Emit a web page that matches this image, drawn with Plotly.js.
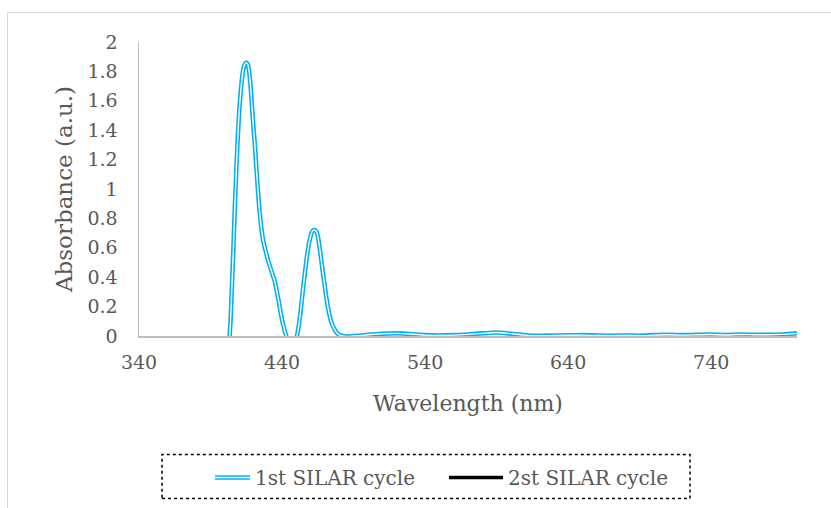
<!DOCTYPE html>
<html>
<head>
<meta charset="utf-8">
<script src="https://cdn.plot.ly/plotly-3.0.1.min.js"></script>
<style>
html,body{margin:0;padding:0;background:#fff;}
#wrap{position:relative;width:831px;height:508px;overflow:hidden;}
#chart{position:absolute;left:0;top:0;width:831px;height:508px;}
#frame{position:absolute;left:7px;top:12px;width:900px;height:600px;border:1px solid #d9d9d9;pointer-events:none;}
</style>
</head>
<body>
<div id="wrap"><div id="chart"></div><div id="frame"></div></div>
<script>
// Wavelength (nm) and absorbance (a.u.)
const wavelength1 = [396,400,403,404,405,406,407,408,409,410,411,412,413,414,415,416,417,418,419,420,
  421,422,423,424,425,426,427,428,429,430,431,432,433,434,435,436,437,438,439,440,441,442,443,444,446,448,450,
  451,452,453,454,455,456,457,458,459,460,461,462,463,464,465,466,467,468,469,470,471,472,473,474,475,476,477,478,479,480,
  482,485,490,495,500,510,520,530,540,550,560,570,580,590,600,610,620,630,640,650,660,670,680,690,700,710,720,730,740,750,760,770,780,790,800];
const absorbance1 = [-1.2,-0.6,-0.05,0.1,0.35,0.6,0.88,1.12,1.34,1.52,1.65,1.75,1.82,1.85,1.86,1.85,1.80,1.70,1.56,1.42,
  1.30,1.15,1.01,0.88,0.78,0.70,0.64,0.60,0.56,0.52,0.49,0.46,0.43,0.40,0.37,0.32,0.27,0.22,0.16,0.11,0.07,0.03,0.0,-0.05,-0.12,-0.10,-0.02,
  0.03,0.09,0.17,0.26,0.35,0.43,0.51,0.58,0.64,0.68,0.71,0.72,0.72,0.71,0.68,0.62,0.55,0.47,0.40,0.33,0.26,0.20,0.15,0.11,0.08,0.06,0.04,0.025,0.015,0.008,
  0.0,-0.003,0.0,0.003,0.008,0.015,0.018,0.014,0.006,0.004,0.006,0.011,0.018,0.024,0.016,0.006,0.002,0.003,0.005,0.006,0.004,0.002,0.004,0.002,0.006,0.008,0.006,0.008,0.01,0.007,0.01,0.009,0.008,0.011,0.018];
// Second series is not visible in the reference plot area
const wavelength2 = [340, 800];
const absorbance2 = [null, null];
const seriesNames = ['1st SILAR cycle', '2st SILAR cycle'];
const xTicks = [340, 440, 540, 640, 740];
const yTicks = [0, 0.2, 0.4, 0.6, 0.8, 1, 1.2, 1.4, 1.6, 1.8, 2];
const yTickText = ['0', '0.2', '0.4', '0.6', '0.8', '1', '1.2', '1.4', '1.6', '1.8', '2'];

const FONT = 'DejaVu Serif, Liberation Serif, serif';
const BLUE = '#00B0F0';

const traces = [
  {x: wavelength1, y: absorbance1, name: seriesNames[0], type: 'scatter', mode: 'lines',
   line: {color: BLUE, width: 4.5, shape: 'spline', smoothing: 0.6}},
  {x: wavelength1, y: absorbance1, name: seriesNames[0] + ' inner', type: 'scatter', mode: 'lines',
   line: {color: '#ffffff', width: 1.4, shape: 'spline', smoothing: 0.6}, showlegend: false, hoverinfo: 'skip'},
  {x: wavelength2, y: absorbance2, name: seriesNames[1], type: 'scatter', mode: 'lines',
   line: {color: '#000000', width: 3.5}}
];

const layout = {
  width: 831, height: 508,
  margin: {l: 139, r: 34, t: 42, b: 171},
  paper_bgcolor: '#ffffff', plot_bgcolor: '#ffffff',
  font: {family: FONT, color: '#595959'},
  showlegend: true,
  xaxis: {
    range: [340, 800], tickvals: xTicks, ticktext: xTicks.map(String),
    showgrid: false, zeroline: false, showline: true, linecolor: '#bfbfbf', linewidth: 1.5,
    ticks: '', ticklabelstandoff: 9, tickfont: {size: 19, family: FONT, color: '#595959'},
    title: {text: 'Wavelength (nm)', font: {size: 22, family: FONT, color: '#595959'}, standoff: 23}
  },
  yaxis: {
    range: [0, 2], tickvals: yTicks, ticktext: yTickText,
    showgrid: false, zeroline: false, showline: true, linecolor: '#bfbfbf', linewidth: 1.5,
    ticks: '', ticklabelstandoff: 16, tickfont: {size: 19, family: FONT, color: '#595959'},
    title: {text: 'Absorbance (a.u.)', font: {size: 23, family: FONT, color: '#595959'}, standoff: 8}
  },
  legend: {
    orientation: 'h', x: 0.1155, y: -0.41, xanchor: 'left', yanchor: 'top',
    bgcolor: 'rgba(0,0,0,0)', borderwidth: 0,
    font: {size: 20, family: FONT, color: '#595959'},
    entrywidth: 208, entrywidthmode: 'pixels'
  },
  shapes: [{
    type: 'rect', xref: 'paper', yref: 'paper',
    x0: 0.035, x1: 0.8374, y0: -0.5525, y1: -0.4034,
    line: {color: '#000000', width: 1.5, dash: 'dot'}, fillcolor: 'rgba(0,0,0,0)'
  }]
};

Plotly.newPlot('chart', traces, layout, {staticPlot: true}).then(function(gd){
  const items = gd.querySelectorAll('.legend .traces');
  items.forEach(function(item, i){
    const p = item.querySelector('.legendlines path');
    if (!p) return;
    // Longer legend line symbols, as in the reference
    p.setAttribute('d', 'M-19,0h54');
    if (i === 0) {
      // White inner stroke for the double-line look
      const c = p.cloneNode(true);
      c.style.stroke = '#ffffff';
      c.style.strokeWidth = '1.4px';
      p.parentNode.appendChild(c);
    }
  });
});
</script>
</body>
</html>
